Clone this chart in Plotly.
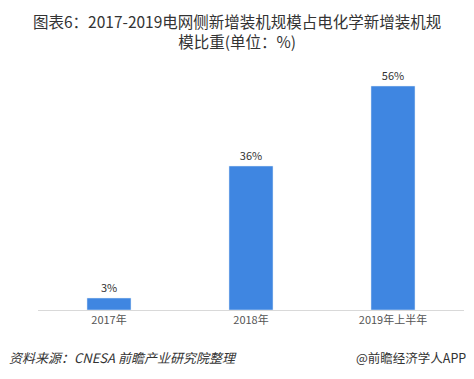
import plotly.graph_objects as go

categories = ["2017年", "2018年", "2019年上半年"]
values = [3, 36, 56]
labels = ["3%", "36%", "56%"]

font_family = "Microsoft YaHei, Noto Sans CJK SC, Arial, sans-serif"

# page offset from default body margin
OFF = 8
W, H = 474 - OFF, 379 - OFF
L, R, T, B = 38 - OFF, 10, 70 - OFF, 69

fig = go.Figure()
fig.add_trace(go.Bar(
    x=categories, y=values, text=labels, textposition="outside",
    textfont=dict(size=11, color="#333333", family=font_family),
    marker=dict(color="#3F86E1"), width=0.31, cliponaxis=False,
))

fig.update_layout(
    width=W, height=H,
    margin=dict(l=L, r=R, t=T, b=B),
    paper_bgcolor="white", plot_bgcolor="white",
    showlegend=False,
    font=dict(family=font_family),
    xaxis=dict(showline=True, linecolor="#D9D9D9", linewidth=1, ticks="",
               tickfont=dict(size=11, color="#555555"), showgrid=False),
    yaxis=dict(range=[0, 60], visible=False, showgrid=False),
)

def py(ypix):
    return (H - B - (ypix - OFF)) / (H - T - B)

def px(xpix):
    return ((xpix - OFF) - L) / (W - L - R)

fig.add_annotation(text="图表6：2017-2019电网侧新增装机规模占电化学新增装机规<br>模比重(单位：%)",
                   x=px(237), y=py(31), xref="paper", yref="paper",
                   xanchor="center", yanchor="middle", showarrow=False, align="center",
                   font=dict(size=15.5, color="#333333", family=font_family))
fig.add_annotation(text="<i>资料来源：CNESA 前瞻产业研究院整理</i>",
                   x=px(7), y=py(357), xref="paper", yref="paper",
                   xanchor="left", yanchor="middle", showarrow=False,
                   font=dict(size=13, color="#333333", family=font_family))
fig.add_annotation(text="@前瞻经济学人APP",
                   x=px(468), y=py(357), xref="paper", yref="paper",
                   xanchor="right", yanchor="middle", showarrow=False,
                   font=dict(size=12.5, color="#333333", family=font_family))

fig.write_html("out.html")
